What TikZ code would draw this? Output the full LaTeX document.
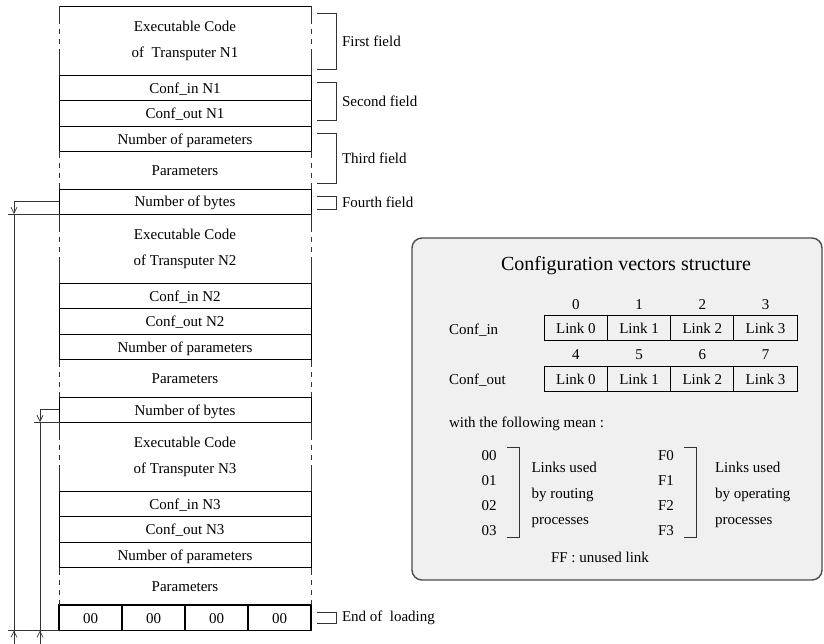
\documentclass[tikz,border=0pt]{standalone}
\usepackage{fontspec}
\setmainfont{Liberation Serif}
\usetikzlibrary{positioning, arrows.meta}

\begin{document}
\begin{tikzpicture}[x=1pt, y=-1pt,
  every node/.style={font=\fontsize{15}{26}\selectfont, inner sep=0pt, outer sep=0pt},
  slot/.style={draw, line width=0.9pt, minimum width=252pt, minimum height=25.5pt, text height=13pt, text depth=2pt},
  codeslot/.style={minimum width=252pt, minimum height=69pt, align=center},
  parslot/.style={minimum width=252pt, minimum height=37.5pt, text height=13pt, text depth=2pt},
  torn/.style={line width=0.8pt, draw=black!80, dash pattern=on #1 off 5pt on 5pt off 5pt on 5pt off 5pt on 400pt},
  field/.style={line width=0.9pt, draw=black!80},
  dim/.style={line width=0.7pt, draw=black!80},
  tip/.style={dim, -{Straight Barb[length=6pt, width=6pt]}},
  cell/.style={draw, line width=0.9pt, minimum width=63.2pt, minimum height=25pt, text height=13pt, text depth=2pt}]
\useasboundingbox (0,0) rectangle (824,644);

% memory column
\node (code1) [codeslot] at (185,40.5) {Executable Code\\of \ Transputer N1};
\node (cin1) [slot, below=0pt of code1] {Conf\_in N1};
\node (cout1) [slot, below=0pt of cin1] {Conf\_out N1};
\node (npar1) [slot, below=0pt of cout1] {Number of parameters};
\node (par1) [parslot, below=0pt of npar1] {Parameters};
\node (nbyte1) [slot, minimum height=25pt, below=0pt of par1] {Number of bytes};

\node (code2) [codeslot, below=0pt of nbyte1] {Executable Code\\of Transputer N2};
\node (cin2) [slot, below=0pt of code2] {Conf\_in N2};
\node (cout2) [slot, below=0pt of cin2] {Conf\_out N2};
\node (npar2) [slot, below=0pt of cout2] {Number of parameters};
\node (par2) [parslot, below=0pt of npar2] {Parameters};
\node (nbyte2) [slot, minimum height=25pt, below=0pt of par2] {Number of bytes};

\node (code3) [codeslot, below=0pt of nbyte2] {Executable Code\\of Transputer N3};
\node (cin3) [slot, below=0pt of code3] {Conf\_in N3};
\node (cout3) [slot, below=0pt of cin3] {Conf\_out N3};
\node (npar3) [slot, below=0pt of cout3] {Number of parameters};
\node (par3) [parslot, below=0pt of npar3] {Parameters};

\node (end1) [cell, line width=1.1pt, minimum width=63pt, minimum height=25.5pt, anchor=north west] at (par3.south west) {00};
\node (end2) [cell, line width=1.1pt, minimum width=63pt, minimum height=25.5pt, right=0pt of end1] {00};
\node (end3) [cell, line width=1.1pt, minimum width=63pt, minimum height=25.5pt, right=0pt of end2] {00};
\node (end4) [cell, line width=1.1pt, minimum width=63pt, minimum height=25.5pt, right=0pt of end3] {00};

\draw[line width=0.8pt] (code1.north west) -- (code1.north east);
\draw[torn=18pt] (code1.north west) -- (code1.south west);
\draw[torn=18pt] (code1.north east) -- (code1.south east);
\draw[torn=18pt] (code2.north west) -- (code2.south west);
\draw[torn=18pt] (code2.north east) -- (code2.south east);
\draw[torn=18pt] (code3.north west) -- (code3.south west);
\draw[torn=18pt] (code3.north east) -- (code3.south east);
\draw[torn=7pt] (par1.north west) -- (par1.south west);
\draw[torn=7pt] (par1.north east) -- (par1.south east);
\draw[torn=7pt] (par2.north west) -- (par2.south west);
\draw[torn=7pt] (par2.north east) -- (par2.south east);
\draw[torn=7pt] (par3.north west) -- (par3.south west);
\draw[torn=7pt] (par3.north east) -- (par3.south east);

% fields
\draw[field] ([shift={(6,7)}]code1.north east) -| ([shift={(25,-6)}]code1.south east) node[pos=0.75, right=6pt] (first) {First field} -- ([shift={(6,-6)}]code1.south east);
\draw[field] ([shift={(6,7)}]cin1.north east) -| ([shift={(25,-6)}]cout1.south east) node[pos=0.75, right=6pt] (second) {Second field} -- ([shift={(6,-6)}]cout1.south east);
\draw[field] ([shift={(6,7)}]npar1.north east) -| ([shift={(25,-6)}]par1.south east) node[pos=0.75, right=6pt] (third) {Third field} -- ([shift={(6,-6)}]par1.south east);
\draw[field] ([shift={(6,7)}]nbyte1.north east) -| ([shift={(25,-5)}]nbyte1.south east) node[pos=0.75, right=6pt] (fourth) {Fourth field} -- ([shift={(6,-5)}]nbyte1.south east);
\draw[field] ([shift={(6,7)}]end4.north east) -| ([shift={(25,-7.5)}]end4.south east) node[pos=0.75, right=6pt] (loading) {End of \ loading} -- ([shift={(6,-7.5)}]end4.south east);

% lengths to the end of loading
\coordinate (dimA) at (14,644);
\coordinate (dimB) at (40,644);
\draw[tip] (nbyte1.west) -| (nbyte1.south west -| dimA);
\draw[dim] (nbyte1.south west) -- ++(-51,0);
\draw[dim] (nbyte1.south west -| dimA) -- (dimA);
\draw[tip] (dimA) -- (end1.south west -| dimA);
\draw[dim] (end1.south west) -- ++(-51,0);
\draw[tip] (nbyte2.west) -| (nbyte2.south west -| dimB);
\draw[dim] (nbyte2.south west) -- ++(-25,0);
\draw[dim] (nbyte2.south west -| dimB) -- (dimB);
\draw[tip] (dimB) -- (end1.south west -| dimB);

% configuration vectors
\node (vecbox) [draw=black!70, line width=1.4pt, fill=black!6, rounded corners=10pt, minimum width=410pt, minimum height=342pt, anchor=north west] at (412,238) {};
\node (title) [font=\fontsize{20}{24}\selectfont] at (626,266) {Configuration vectors structure};

\node (vin0) [cell] at (575.9,328.2) {Link 0};
\node (vin1) [cell, right=0pt of vin0] {Link 1};
\node (vin2) [cell, right=0pt of vin1] {Link 2};
\node (vin3) [cell, right=0pt of vin2] {Link 3};
\node (i0) [above=6.5pt of vin0] {0};
\node (i1) [above=6.5pt of vin1] {1};
\node (i2) [above=6.5pt of vin2] {2};
\node (i3) [above=6.5pt of vin3] {3};
\node (cinlab) [anchor=base west] at (449,334) {Conf\_in};

\node (vout0) [cell] at (575.9,378.5) {Link 0};
\node (vout1) [cell, right=0pt of vout0] {Link 1};
\node (vout2) [cell, right=0pt of vout1] {Link 2};
\node (vout3) [cell, right=0pt of vout2] {Link 3};
\node (i4) [above=6.5pt of vout0] {4};
\node (i5) [above=6.5pt of vout1] {5};
\node (i6) [above=6.5pt of vout2] {6};
\node (i7) [above=6.5pt of vout3] {7};
\node (coutlab) [anchor=base west] at (449,384.3) {Conf\_out};

\node (mean) [anchor=west] at (449,424) {with the following mean :};

\node (r0) at (489,456) {00};
\node (r1) at (489,481) {01};
\node (r2) at (489,506) {02};
\node (r3) at (489,531) {03};
\draw[field] (507,447) -| (519.5,537) node[pos=0.75, right=12pt, yshift=-3pt, align=left] (routing) {Links used\\by routing\\processes} -- (507,537);

\node (f0) at (666,456) {F0};
\node (f1) at (666,481) {F1};
\node (f2) at (666,506) {F2};
\node (f3) at (666,531) {F3};
\draw[field] (683.5,447) -| (696,537) node[pos=0.75, right=19pt, yshift=-3pt, align=left] (operating) {Links used\\by operating\\processes} -- (683.5,537);

\node (unused) at (600,557) {FF : unused link};
\end{tikzpicture}
\end{document}
